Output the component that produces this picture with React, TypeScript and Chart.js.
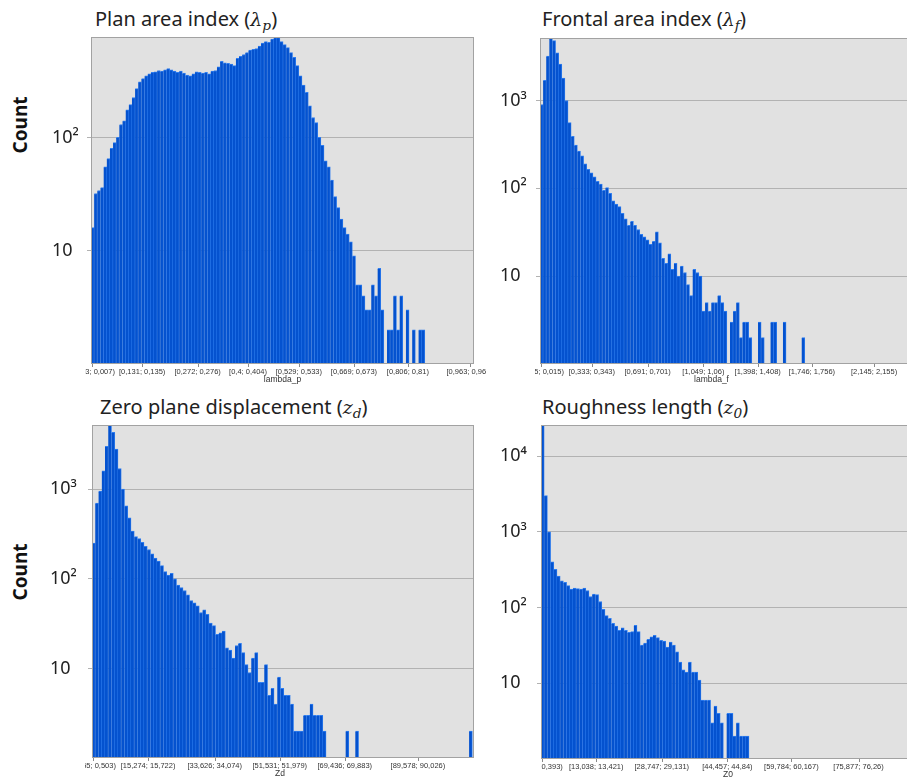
import React, { useEffect, useRef } from "react";
import { Chart, registerables } from "chart.js";

Chart.register(...registerables);

// ================= DATA =================
// Panel 1 : Plan area index (lambda_p)
const lpBinStart = 0.003;
const lpBinWidth = 0.008;
const lpCounts = [
  16, 32, 34, 36, 55, 65, 80, 90, 100, 130,
  140, 175, 195, 225, 270, 310, 330, 350, 365, 375,
  380, 390, 385, 395, 405, 395, 385, 375, 385, 370,
  355, 350, 365, 380, 375, 370, 375, 365, 385, 390,
  420, 470, 455, 450, 445, 430, 500, 520, 540, 560,
  590, 600, 610, 640, 680, 700, 690, 740, 760, 760,
  700, 660, 620, 560, 510, 430, 350, 290, 250, 190,
  150, 135, 100, 85, 62, 55, 42, 30, 24, 19,
  16, 14, 12, 9, 5, 5, 4, 3, 3, 5,
  4, 7, 3, 0, 2, 2, 4, 2, 4, 0,
  3, 0, 2, 0, 2, 2,
];
const lpXTicks = [0.005, 0.133, 0.274, 0.402, 0.531, 0.671, 0.808, 0.965];
const lpXLabels = ["[0,003; 0,007)", "[0,131; 0,135)", "[0,272; 0,276)", "[0,4; 0,404)", "[0,529; 0,533)", "[0,669; 0,673)", "[0,806; 0,81)", "[0,963; 0,967)"];
const lpYTicks = [10, 100];
const lpYLabels = ["10", "10²"];

// Panel 2 : Frontal area index (lambda_f)
const lfBinStart = 0.005;
const lfBinWidth = 0.02;
const lfCounts = [
  900, 1700, 3200, 5100, 4800, 3500, 2600, 1800, 1000, 560,
  390, 310, 265, 235, 190, 165, 150, 135, 120, 112,
  95, 102, 88, 72, 66, 62, 52, 45, 38, 42,
  38, 34, 30, 28, 26, 23, 25, 32, 24, 16,
  14, 18, 12, 14, 10, 13, 11, 8, 6, 12,
  11, 10, 4, 5, 4, 5, 5, 6, 5, 4,
  0, 3, 4, 5, 2, 3, 3, 2, 0, 0,
  3, 2, 0, 0, 3, 3, 0, 0, 3, 0,
  0, 0, 0, 0, 2,
];
const lfXTicks = [0.0101, 0.338, 0.696, 1.054, 1.403, 1.751, 2.15];
const lfXLabels = ["[0,005; 0,015)", "[0,333; 0,343)", "[0,691; 0,701)", "[1,049; 1,06)", "[1,398; 1,408)", "[1,746; 1,756)", "[2,145; 2,155)"];
const lfYTicks = [10, 100, 1000];
const lfYLabels = ["10", "10²", "10³"];

// Panel 3 : Zero plane displacement (z_d)
const zdBinStart = 0.055;
const zdBinWidth = 0.8952;
const zdCounts = [
  250, 700, 950, 1600, 3000, 5200, 4300, 2800, 1700, 1000,
  650, 480, 340, 295, 280, 255, 230, 212, 190, 170,
  158, 140, 120, 110, 115, 100, 85, 80, 74, 66,
  57, 54, 50, 42, 45, 40, 32, 30, 24, 25,
  26, 17, 16, 13, 18, 19, 15, 11, 9, 13,
  15, 7, 7, 11, 5, 6, 4, 8, 6, 5,
  5, 4, 2, 2, 2, 3, 3, 4, 3, 3,
  3, 2, 0, 0, 0, 0, 0, 0, 2, 0,
  0, 2, 0, 0, 0, 0, 0, 0, 0, 0,
  0, 0, 0, 0, 0, 0, 0, 0, 0, 0,
  0, 0, 0, 0, 0, 0, 0, 0, 0, 0,
  0, 0, 0, 0, 0, 0, 2,
];
const zdXTicks = [0.279, 15.498, 33.85, 51.755, 69.66, 89.802];
const zdXLabels = ["[0,055; 0,503)", "[15,274; 15,722)", "[33,626; 34,074)", "[51,531; 51,979)", "[69,436; 69,883)", "[89,578; 90,026)"];
const zdYTicks = [10, 100, 1000];
const zdYLabels = ["10", "10²", "10³"];

// Panel 4 : Roughness length (z_0)
const z0BinStart = 0.01;
const z0BinWidth = 0.7664;
const z0Counts = [
  26000, 3000, 1000, 400, 320, 260, 225, 215, 195, 175,
  180, 178, 175, 180, 168, 140, 150, 148, 120, 95,
  78, 72, 62, 57, 50, 54, 50, 47, 48, 58,
  48, 32, 34, 38, 41, 43, 40, 37, 36, 30,
  35, 32, 26, 19, 15, 14, 19, 14, 14, 11,
  6, 6, 6, 3, 5, 4, 3, 0, 4, 4,
  2, 3, 2, 2, 2,
];
const z0XTicks = [0.2016, 13.23, 28.939, 44.649, 59.976, 76.069];
const z0XLabels = ["[0,01; 0,393)", "[13,038; 13,421)", "[28,747; 29,131)", "[44,457; 44,84)", "[59,784; 60,167)", "[75,877; 76,26)"];
const z0YTicks = [10, 100, 1000, 10000];
const z0YLabels = ["10", "10²", "10³", "10⁴"];

// ================= STYLE =================
const BAR_FILL = "#0452cf";
const BAR_EDGE = "#2f7ef0";
const PLOT_BG = "#e1e1e1";
const GRID = "#b2b2b2";
const FRAME = "#a2a2a2";
const TEXT = "#222222";

type Spec = {
  counts: number[];
  binStart: number;
  binWidth: number;
  xMin: number;
  xMax: number;
  xTicks: number[];
  xLabels: string[];
  xTitle: string;
  yMax: number;
  yTicks: number[];
  yLabels: string[];
  box: { l: number; t: number; r: number; b: number };
  yAxisW: number;
  clipL: number;
  clipR: number;
  titleShift: number;
};

const panels: Spec[] = [
  {
    counts: lpCounts, binStart: lpBinStart, binWidth: lpBinWidth,
    xMin: 0.003, xMax: 0.976, xTicks: lpXTicks, xLabels: lpXLabels, xTitle: "lambda_p",
    yMax: 770, yTicks: lpYTicks, yLabels: lpYLabels,
    box: { l: 91, t: 37, r: 474, b: 364 }, yAxisW: 39, clipL: 6, clipR: 12, titleShift: 0,
  },
  {
    counts: lfCounts, binStart: lfBinStart, binWidth: lfBinWidth,
    xMin: 0.005, xMax: 2.413, xTicks: lfXTicks, xLabels: lfXLabels, xTitle: "lambda_f",
    yMax: 5150, yTicks: lfYTicks, yLabels: lfYLabels,
    box: { l: 540, t: 38, r: 915, b: 364 }, yAxisW: 40, clipL: 5, clipR: 0, titleShift: -16,
  },
  {
    counts: zdCounts, binStart: zdBinStart, binWidth: zdBinWidth,
    xMin: 0.055, xMax: 105.25, xTicks: zdXTicks, xLabels: zdXLabels, xTitle: "Zd",
    yMax: 5200, yTicks: zdYTicks, yLabels: zdYLabels,
    box: { l: 92, t: 425, r: 474, b: 758 }, yAxisW: 42, clipL: 7, clipR: 12, titleShift: -3,
  },
  {
    counts: z0Counts, binStart: z0BinStart, binWidth: z0BinWidth,
    xMin: 0.01, xMax: 89.59, xTicks: z0XTicks, xLabels: z0XLabels, xTitle: "Z0",
    yMax: 25700, yTicks: z0YTicks, yLabels: z0YLabels,
    box: { l: 541, t: 425, r: 915, b: 759 }, yAxisW: 41, clipL: 0, clipR: 0, titleShift: 0,
  },
];

function Panel({ spec }: { spec: Spec }) {
  const ref = useRef<HTMLCanvasElement | null>(null);
  const padTop = 2;
  const padBottom = 20;
  const padRight = spec.clipR + 4;
  const canvasLeft = spec.box.l - spec.yAxisW;
  const canvasTop = spec.box.t - padTop;
  const width = spec.box.r + padRight - canvasLeft;
  const height = spec.box.b + padBottom - canvasTop;

  useEffect(() => {
    if (!ref.current) return;
    const decor = {
      id: "panelDecor",
      beforeDraw(chart: any) {
        const { ctx, chartArea: a } = chart;
        ctx.save();
        ctx.fillStyle = PLOT_BG;
        ctx.fillRect(a.left, a.top, a.right - a.left, a.bottom - a.top);
        ctx.restore();
      },
      afterDraw(chart: any) {
        const { ctx, chartArea: a } = chart;
        const xs = chart.scales.x;
        ctx.save();
        ctx.strokeStyle = FRAME;
        ctx.lineWidth = 1;
        ctx.strokeRect(a.left + 0.5, a.top + 0.5, a.right - a.left - 1, a.bottom - a.top - 1);
        ctx.strokeStyle = "#8a8a8a";
        spec.xTicks.forEach((v) => {
          const px = Math.round(xs.getPixelForValue(v)) + 0.5;
          ctx.beginPath();
          ctx.moveTo(px, a.bottom);
          ctx.lineTo(px, a.bottom + 3);
          ctx.stroke();
        });
        ctx.beginPath();
        ctx.rect(a.left - spec.clipL, a.bottom, a.right - a.left + spec.clipL + spec.clipR, 30);
        ctx.clip();
        ctx.fillStyle = "#333";
        ctx.textAlign = "center";
        ctx.textBaseline = "middle";
        ctx.font = '7.5px "Liberation Sans", Arial, sans-serif';
        spec.xTicks.forEach((v, i) => {
          ctx.fillText(spec.xLabels[i], xs.getPixelForValue(v), a.bottom + 8);
        });
        ctx.font = '8.5px "Liberation Sans", Arial, sans-serif';
        ctx.fillText(spec.xTitle, (a.left + a.right) / 2 + spec.titleShift, a.bottom + 16);
        ctx.restore();
      },
    };

    const chart = new Chart(ref.current, {
      type: "bar",
      data: {
        datasets: [
          {
            data: spec.counts.map((c, i) => ({
              x: spec.binStart + (i + 0.5) * spec.binWidth,
              y: c > 0 ? c : null,
            })) as any,
            backgroundColor: BAR_FILL,
            borderColor: BAR_EDGE,
            borderWidth: { top: 1, right: 0.8, left: 0, bottom: 0 } as any,
            barPercentage: 1,
            categoryPercentage: 1,
          },
        ],
      },
      options: {
        responsive: false,
        animation: false,
        devicePixelRatio: 1,
        layout: { padding: { top: padTop, right: padRight, bottom: padBottom, left: 0 } },
        plugins: { legend: { display: false }, tooltip: { enabled: false } },
        scales: {
          x: {
            type: "linear",
            display: false,
            min: spec.xMin,
            max: spec.xMax,
            offset: false,
          },
          y: {
            type: "logarithmic",
            min: 1,
            max: spec.yMax,
            afterBuildTicks: (s: any) => {
              s.ticks = spec.yTicks.map((v) => ({ value: v }));
            },
            afterFit: (s: any) => {
              s.width = spec.yAxisW;
              s.paddingTop = 0;
              s.paddingBottom = 0;
            },
            ticks: {
              callback: (v: any) => {
                const i = spec.yTicks.indexOf(Number(v));
                return i >= 0 ? spec.yLabels[i] : "";
              },
              crossAlign: "far",
              color: TEXT,
              padding: 0,
              font: { family: '"Noto Sans", sans-serif', size: 18 },
            },
            grid: { color: GRID, lineWidth: 1, drawTicks: true, tickLength: 4 },
            border: { display: false },
          },
        },
      } as any,
      plugins: [decor],
    });
    return () => chart.destroy();
  }, [spec]);

  return (
    <canvas
      ref={ref}
      width={width}
      height={height}
      style={{ position: "absolute", left: canvasLeft, top: canvasTop, width, height }}
    />
  );
}

const mathStyle: React.CSSProperties = {
  fontFamily: '"DejaVu Serif", serif',
  fontStyle: "italic",
  fontSize: "0.95em",
};
const subStyle: React.CSSProperties = {
  fontSize: "0.72em",
  verticalAlign: "-0.3em",
  lineHeight: 0,
};

function Title({ left, top, text, sym, sub }: { left: number; top: number; text: string; sym: string; sub: string }) {
  return (
    <div
      style={{
        position: "absolute",
        left,
        top,
        fontFamily: '"Noto Sans", sans-serif',
        fontSize: 20,
        lineHeight: "24px",
        color: TEXT,
        whiteSpace: "nowrap",
      }}
    >
      {text} (<span style={mathStyle}>{sym}<span style={subStyle}>{sub}</span></span>)
    </div>
  );
}

function CountLabel({ cx, cy }: { cx: number; cy: number }) {
  return (
    <div
      style={{
        position: "absolute",
        left: cx,
        top: cy,
        transform: "translate(-50%, -50%) rotate(-90deg)",
        fontFamily: '"Noto Sans", sans-serif',
        fontWeight: 700,
        fontSize: 19,
        color: "#111",
        whiteSpace: "nowrap",
      }}
    >
      Count
    </div>
  );
}

export default function App() {
  return (
    <div
      style={{
        position: "absolute",
        left: 0,
        top: 0,
        width: 907,
        height: 778,
        overflow: "hidden",
        background: "#ffffff",
      }}
    >
      {panels.map((p, i) => (
        <Panel key={i} spec={p} />
      ))}
      <Title left={95} top={7} text="Plan area index" sym="λ" sub="p" />
      <Title left={542} top={7} text="Frontal area index" sym="λ" sub="f" />
      <Title left={100} top={395} text="Zero plane displacement" sym="z" sub="d" />
      <Title left={542} top={395} text="Roughness length" sym="z" sub="0" />
      <CountLabel cx={20} cy={125} />
      <CountLabel cx={20} cy={572} />
    </div>
  );
}
